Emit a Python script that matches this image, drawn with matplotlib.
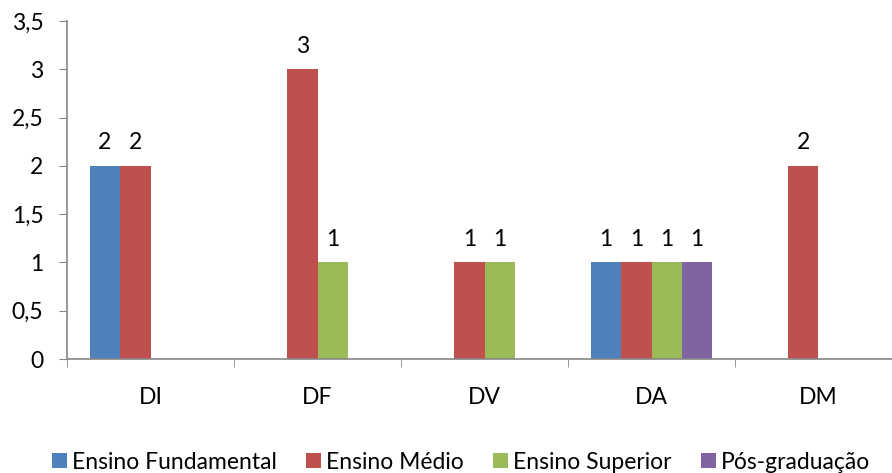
import matplotlib.pyplot as plt
import numpy as np

# tipos de deficiência x escolaridade
categorias = ['DI', 'DF', 'DV', 'DA', 'DM']
fundamental = [2, 0, 0, 1, 0]
medio = [2, 3, 1, 1, 2]
superior = [0, 1, 1, 1, 0]
pos_grad = [0, 0, 0, 1, 0]

series = [
    ('Ensino Fundamental', fundamental, '#4f81bd'),
    ('Ensino Médio', medio, '#c0504d'),
    ('Ensino Superior', superior, '#9bbb59'),
    ('Pós-graduação', pos_grad, '#8064a2'),
]

plt.rcParams['font.family'] = ['Lato', 'DejaVu Sans']
fs = 16.5

fig = plt.figure(figsize=(8.92, 4.73), dpi=100)
# eixo passa da borda direita, como no original
ax = fig.add_axes([67/892, 114/473, 835/892, 338/473])

x = np.arange(len(categorias))
w = 0.182
for i, (nome, vals, cor) in enumerate(series):
    pos = x + (i - 1.5) * w
    bars = ax.bar(pos, vals, w, color=cor, label=nome, edgecolor='none')
    for b, v in zip(bars, vals):
        if v > 0:
            ax.text(b.get_x() + b.get_width()/2, v + 0.13, str(v),
                    ha='center', va='bottom', fontsize=fs)

ax.set_xlim(-0.5, len(categorias) - 0.5)
ax.set_ylim(0, 3.5)
yt = np.arange(0, 3.51, 0.5)
ax.set_yticks(yt)
ax.set_yticklabels([('%g' % t).replace('.', ',') for t in yt], fontsize=fs)

ax.set_xticks(x)
ax.set_xticklabels(categorias, fontsize=fs)
ax.set_xticks(np.arange(-0.5, len(categorias)), minor=True)
ax.tick_params(axis='x', which='major', length=0, pad=20)
ax.tick_params(axis='x', which='minor', length=6, color='#868686', direction='out')
ax.tick_params(axis='y', length=6, color='#868686', direction='out', pad=11)

for s in ['top', 'right']:
    ax.spines[s].set_visible(False)
for s in ['left', 'bottom']:
    ax.spines[s].set_color('#868686')
    ax.spines[s].set_linewidth(1.2)

fig.legend(loc='center', bbox_to_anchor=(461/892, 1 - 462/473), ncol=4,
           frameon=False, fontsize=fs, handlelength=0.65, handleheight=0.65,
           handletextpad=0.2, columnspacing=1.3)

fig.savefig('out.png', dpi=100)
